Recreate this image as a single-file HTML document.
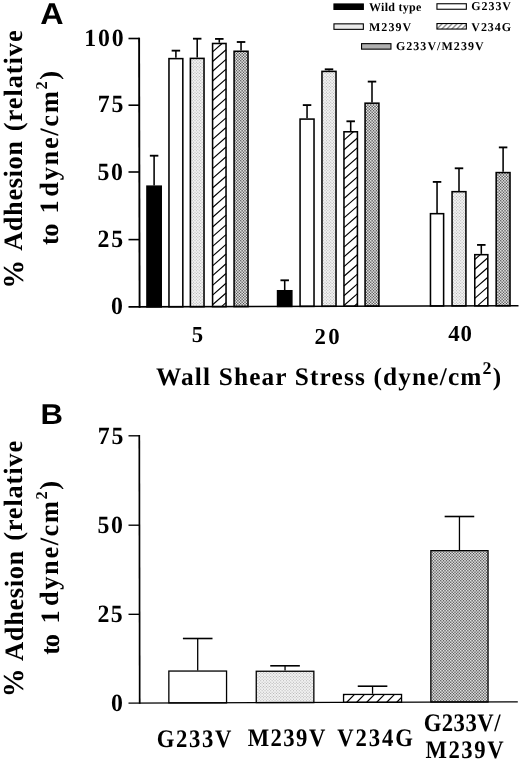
<!DOCTYPE html>
<html lang="en"><head><meta charset="utf-8"><title>Figure: % Adhesion vs Wall Shear Stress</title>
<style>html,body{margin:0;padding:0;background:#fff}svg{display:block;will-change:transform;filter:grayscale(1)}</style></head><body>
<svg width="520" height="761" viewBox="0 0 520 761" font-family="'Liberation Serif', serif" font-weight="bold" fill="#000" text-rendering="geometricPrecision">
<defs>
<pattern id="lt" width="20" height="20" patternUnits="userSpaceOnUse"><rect width="20" height="20" fill="#f2f2f2"/><path d="M0.21 0.21h1.00v1.00h-1.00zM3.07 0.21h1.00v1.00h-1.00zM5.93 0.21h1.00v1.00h-1.00zM8.79 0.21h1.00v1.00h-1.00zM11.64 0.21h1.00v1.00h-1.00zM14.50 0.21h1.00v1.00h-1.00zM17.36 0.21h1.00v1.00h-1.00zM1.64 1.64h1.00v1.00h-1.00zM4.50 1.64h1.00v1.00h-1.00zM7.36 1.64h1.00v1.00h-1.00zM10.21 1.64h1.00v1.00h-1.00zM13.07 1.64h1.00v1.00h-1.00zM15.93 1.64h1.00v1.00h-1.00zM18.79 1.64h1.00v1.00h-1.00zM0.21 3.07h1.00v1.00h-1.00zM3.07 3.07h1.00v1.00h-1.00zM5.93 3.07h1.00v1.00h-1.00zM8.79 3.07h1.00v1.00h-1.00zM11.64 3.07h1.00v1.00h-1.00zM14.50 3.07h1.00v1.00h-1.00zM17.36 3.07h1.00v1.00h-1.00zM1.64 4.50h1.00v1.00h-1.00zM4.50 4.50h1.00v1.00h-1.00zM7.36 4.50h1.00v1.00h-1.00zM10.21 4.50h1.00v1.00h-1.00zM13.07 4.50h1.00v1.00h-1.00zM15.93 4.50h1.00v1.00h-1.00zM18.79 4.50h1.00v1.00h-1.00zM0.21 5.93h1.00v1.00h-1.00zM3.07 5.93h1.00v1.00h-1.00zM5.93 5.93h1.00v1.00h-1.00zM8.79 5.93h1.00v1.00h-1.00zM11.64 5.93h1.00v1.00h-1.00zM14.50 5.93h1.00v1.00h-1.00zM17.36 5.93h1.00v1.00h-1.00zM1.64 7.36h1.00v1.00h-1.00zM4.50 7.36h1.00v1.00h-1.00zM7.36 7.36h1.00v1.00h-1.00zM10.21 7.36h1.00v1.00h-1.00zM13.07 7.36h1.00v1.00h-1.00zM15.93 7.36h1.00v1.00h-1.00zM18.79 7.36h1.00v1.00h-1.00zM0.21 8.79h1.00v1.00h-1.00zM3.07 8.79h1.00v1.00h-1.00zM5.93 8.79h1.00v1.00h-1.00zM8.79 8.79h1.00v1.00h-1.00zM11.64 8.79h1.00v1.00h-1.00zM14.50 8.79h1.00v1.00h-1.00zM17.36 8.79h1.00v1.00h-1.00zM1.64 10.21h1.00v1.00h-1.00zM4.50 10.21h1.00v1.00h-1.00zM7.36 10.21h1.00v1.00h-1.00zM10.21 10.21h1.00v1.00h-1.00zM13.07 10.21h1.00v1.00h-1.00zM15.93 10.21h1.00v1.00h-1.00zM18.79 10.21h1.00v1.00h-1.00zM0.21 11.64h1.00v1.00h-1.00zM3.07 11.64h1.00v1.00h-1.00zM5.93 11.64h1.00v1.00h-1.00zM8.79 11.64h1.00v1.00h-1.00zM11.64 11.64h1.00v1.00h-1.00zM14.50 11.64h1.00v1.00h-1.00zM17.36 11.64h1.00v1.00h-1.00zM1.64 13.07h1.00v1.00h-1.00zM4.50 13.07h1.00v1.00h-1.00zM7.36 13.07h1.00v1.00h-1.00zM10.21 13.07h1.00v1.00h-1.00zM13.07 13.07h1.00v1.00h-1.00zM15.93 13.07h1.00v1.00h-1.00zM18.79 13.07h1.00v1.00h-1.00zM0.21 14.50h1.00v1.00h-1.00zM3.07 14.50h1.00v1.00h-1.00zM5.93 14.50h1.00v1.00h-1.00zM8.79 14.50h1.00v1.00h-1.00zM11.64 14.50h1.00v1.00h-1.00zM14.50 14.50h1.00v1.00h-1.00zM17.36 14.50h1.00v1.00h-1.00zM1.64 15.93h1.00v1.00h-1.00zM4.50 15.93h1.00v1.00h-1.00zM7.36 15.93h1.00v1.00h-1.00zM10.21 15.93h1.00v1.00h-1.00zM13.07 15.93h1.00v1.00h-1.00zM15.93 15.93h1.00v1.00h-1.00zM18.79 15.93h1.00v1.00h-1.00zM0.21 17.36h1.00v1.00h-1.00zM3.07 17.36h1.00v1.00h-1.00zM5.93 17.36h1.00v1.00h-1.00zM8.79 17.36h1.00v1.00h-1.00zM11.64 17.36h1.00v1.00h-1.00zM14.50 17.36h1.00v1.00h-1.00zM17.36 17.36h1.00v1.00h-1.00zM1.64 18.79h1.00v1.00h-1.00zM4.50 18.79h1.00v1.00h-1.00zM7.36 18.79h1.00v1.00h-1.00zM10.21 18.79h1.00v1.00h-1.00zM13.07 18.79h1.00v1.00h-1.00zM15.93 18.79h1.00v1.00h-1.00zM18.79 18.79h1.00v1.00h-1.00z" fill="#b4b4b4"/></pattern>
<pattern id="dk" width="20" height="20" patternUnits="userSpaceOnUse"><rect width="20" height="20" fill="#acacac"/><path d="M0.21 0.21h1.00v1.00h-1.00zM3.07 0.21h1.00v1.00h-1.00zM5.93 0.21h1.00v1.00h-1.00zM8.79 0.21h1.00v1.00h-1.00zM11.64 0.21h1.00v1.00h-1.00zM14.50 0.21h1.00v1.00h-1.00zM17.36 0.21h1.00v1.00h-1.00zM1.64 1.64h1.00v1.00h-1.00zM4.50 1.64h1.00v1.00h-1.00zM7.36 1.64h1.00v1.00h-1.00zM10.21 1.64h1.00v1.00h-1.00zM13.07 1.64h1.00v1.00h-1.00zM15.93 1.64h1.00v1.00h-1.00zM18.79 1.64h1.00v1.00h-1.00zM0.21 3.07h1.00v1.00h-1.00zM3.07 3.07h1.00v1.00h-1.00zM5.93 3.07h1.00v1.00h-1.00zM8.79 3.07h1.00v1.00h-1.00zM11.64 3.07h1.00v1.00h-1.00zM14.50 3.07h1.00v1.00h-1.00zM17.36 3.07h1.00v1.00h-1.00zM1.64 4.50h1.00v1.00h-1.00zM4.50 4.50h1.00v1.00h-1.00zM7.36 4.50h1.00v1.00h-1.00zM10.21 4.50h1.00v1.00h-1.00zM13.07 4.50h1.00v1.00h-1.00zM15.93 4.50h1.00v1.00h-1.00zM18.79 4.50h1.00v1.00h-1.00zM0.21 5.93h1.00v1.00h-1.00zM3.07 5.93h1.00v1.00h-1.00zM5.93 5.93h1.00v1.00h-1.00zM8.79 5.93h1.00v1.00h-1.00zM11.64 5.93h1.00v1.00h-1.00zM14.50 5.93h1.00v1.00h-1.00zM17.36 5.93h1.00v1.00h-1.00zM1.64 7.36h1.00v1.00h-1.00zM4.50 7.36h1.00v1.00h-1.00zM7.36 7.36h1.00v1.00h-1.00zM10.21 7.36h1.00v1.00h-1.00zM13.07 7.36h1.00v1.00h-1.00zM15.93 7.36h1.00v1.00h-1.00zM18.79 7.36h1.00v1.00h-1.00zM0.21 8.79h1.00v1.00h-1.00zM3.07 8.79h1.00v1.00h-1.00zM5.93 8.79h1.00v1.00h-1.00zM8.79 8.79h1.00v1.00h-1.00zM11.64 8.79h1.00v1.00h-1.00zM14.50 8.79h1.00v1.00h-1.00zM17.36 8.79h1.00v1.00h-1.00zM1.64 10.21h1.00v1.00h-1.00zM4.50 10.21h1.00v1.00h-1.00zM7.36 10.21h1.00v1.00h-1.00zM10.21 10.21h1.00v1.00h-1.00zM13.07 10.21h1.00v1.00h-1.00zM15.93 10.21h1.00v1.00h-1.00zM18.79 10.21h1.00v1.00h-1.00zM0.21 11.64h1.00v1.00h-1.00zM3.07 11.64h1.00v1.00h-1.00zM5.93 11.64h1.00v1.00h-1.00zM8.79 11.64h1.00v1.00h-1.00zM11.64 11.64h1.00v1.00h-1.00zM14.50 11.64h1.00v1.00h-1.00zM17.36 11.64h1.00v1.00h-1.00zM1.64 13.07h1.00v1.00h-1.00zM4.50 13.07h1.00v1.00h-1.00zM7.36 13.07h1.00v1.00h-1.00zM10.21 13.07h1.00v1.00h-1.00zM13.07 13.07h1.00v1.00h-1.00zM15.93 13.07h1.00v1.00h-1.00zM18.79 13.07h1.00v1.00h-1.00zM0.21 14.50h1.00v1.00h-1.00zM3.07 14.50h1.00v1.00h-1.00zM5.93 14.50h1.00v1.00h-1.00zM8.79 14.50h1.00v1.00h-1.00zM11.64 14.50h1.00v1.00h-1.00zM14.50 14.50h1.00v1.00h-1.00zM17.36 14.50h1.00v1.00h-1.00zM1.64 15.93h1.00v1.00h-1.00zM4.50 15.93h1.00v1.00h-1.00zM7.36 15.93h1.00v1.00h-1.00zM10.21 15.93h1.00v1.00h-1.00zM13.07 15.93h1.00v1.00h-1.00zM15.93 15.93h1.00v1.00h-1.00zM18.79 15.93h1.00v1.00h-1.00zM0.21 17.36h1.00v1.00h-1.00zM3.07 17.36h1.00v1.00h-1.00zM5.93 17.36h1.00v1.00h-1.00zM8.79 17.36h1.00v1.00h-1.00zM11.64 17.36h1.00v1.00h-1.00zM14.50 17.36h1.00v1.00h-1.00zM17.36 17.36h1.00v1.00h-1.00zM1.64 18.79h1.00v1.00h-1.00zM4.50 18.79h1.00v1.00h-1.00zM7.36 18.79h1.00v1.00h-1.00zM10.21 18.79h1.00v1.00h-1.00zM13.07 18.79h1.00v1.00h-1.00zM15.93 18.79h1.00v1.00h-1.00zM18.79 18.79h1.00v1.00h-1.00z" fill="#404040"/><path d="M1.64 0.21h1.00v1.00h-1.00zM4.50 0.21h1.00v1.00h-1.00zM7.36 0.21h1.00v1.00h-1.00zM10.21 0.21h1.00v1.00h-1.00zM13.07 0.21h1.00v1.00h-1.00zM15.93 0.21h1.00v1.00h-1.00zM18.79 0.21h1.00v1.00h-1.00zM0.21 1.64h1.00v1.00h-1.00zM3.07 1.64h1.00v1.00h-1.00zM5.93 1.64h1.00v1.00h-1.00zM8.79 1.64h1.00v1.00h-1.00zM11.64 1.64h1.00v1.00h-1.00zM14.50 1.64h1.00v1.00h-1.00zM17.36 1.64h1.00v1.00h-1.00zM1.64 3.07h1.00v1.00h-1.00zM4.50 3.07h1.00v1.00h-1.00zM7.36 3.07h1.00v1.00h-1.00zM10.21 3.07h1.00v1.00h-1.00zM13.07 3.07h1.00v1.00h-1.00zM15.93 3.07h1.00v1.00h-1.00zM18.79 3.07h1.00v1.00h-1.00zM0.21 4.50h1.00v1.00h-1.00zM3.07 4.50h1.00v1.00h-1.00zM5.93 4.50h1.00v1.00h-1.00zM8.79 4.50h1.00v1.00h-1.00zM11.64 4.50h1.00v1.00h-1.00zM14.50 4.50h1.00v1.00h-1.00zM17.36 4.50h1.00v1.00h-1.00zM1.64 5.93h1.00v1.00h-1.00zM4.50 5.93h1.00v1.00h-1.00zM7.36 5.93h1.00v1.00h-1.00zM10.21 5.93h1.00v1.00h-1.00zM13.07 5.93h1.00v1.00h-1.00zM15.93 5.93h1.00v1.00h-1.00zM18.79 5.93h1.00v1.00h-1.00zM0.21 7.36h1.00v1.00h-1.00zM3.07 7.36h1.00v1.00h-1.00zM5.93 7.36h1.00v1.00h-1.00zM8.79 7.36h1.00v1.00h-1.00zM11.64 7.36h1.00v1.00h-1.00zM14.50 7.36h1.00v1.00h-1.00zM17.36 7.36h1.00v1.00h-1.00zM1.64 8.79h1.00v1.00h-1.00zM4.50 8.79h1.00v1.00h-1.00zM7.36 8.79h1.00v1.00h-1.00zM10.21 8.79h1.00v1.00h-1.00zM13.07 8.79h1.00v1.00h-1.00zM15.93 8.79h1.00v1.00h-1.00zM18.79 8.79h1.00v1.00h-1.00zM0.21 10.21h1.00v1.00h-1.00zM3.07 10.21h1.00v1.00h-1.00zM5.93 10.21h1.00v1.00h-1.00zM8.79 10.21h1.00v1.00h-1.00zM11.64 10.21h1.00v1.00h-1.00zM14.50 10.21h1.00v1.00h-1.00zM17.36 10.21h1.00v1.00h-1.00zM1.64 11.64h1.00v1.00h-1.00zM4.50 11.64h1.00v1.00h-1.00zM7.36 11.64h1.00v1.00h-1.00zM10.21 11.64h1.00v1.00h-1.00zM13.07 11.64h1.00v1.00h-1.00zM15.93 11.64h1.00v1.00h-1.00zM18.79 11.64h1.00v1.00h-1.00zM0.21 13.07h1.00v1.00h-1.00zM3.07 13.07h1.00v1.00h-1.00zM5.93 13.07h1.00v1.00h-1.00zM8.79 13.07h1.00v1.00h-1.00zM11.64 13.07h1.00v1.00h-1.00zM14.50 13.07h1.00v1.00h-1.00zM17.36 13.07h1.00v1.00h-1.00zM1.64 14.50h1.00v1.00h-1.00zM4.50 14.50h1.00v1.00h-1.00zM7.36 14.50h1.00v1.00h-1.00zM10.21 14.50h1.00v1.00h-1.00zM13.07 14.50h1.00v1.00h-1.00zM15.93 14.50h1.00v1.00h-1.00zM18.79 14.50h1.00v1.00h-1.00zM0.21 15.93h1.00v1.00h-1.00zM3.07 15.93h1.00v1.00h-1.00zM5.93 15.93h1.00v1.00h-1.00zM8.79 15.93h1.00v1.00h-1.00zM11.64 15.93h1.00v1.00h-1.00zM14.50 15.93h1.00v1.00h-1.00zM17.36 15.93h1.00v1.00h-1.00zM1.64 17.36h1.00v1.00h-1.00zM4.50 17.36h1.00v1.00h-1.00zM7.36 17.36h1.00v1.00h-1.00zM10.21 17.36h1.00v1.00h-1.00zM13.07 17.36h1.00v1.00h-1.00zM15.93 17.36h1.00v1.00h-1.00zM18.79 17.36h1.00v1.00h-1.00zM0.21 18.79h1.00v1.00h-1.00zM3.07 18.79h1.00v1.00h-1.00zM5.93 18.79h1.00v1.00h-1.00zM8.79 18.79h1.00v1.00h-1.00zM11.64 18.79h1.00v1.00h-1.00zM14.50 18.79h1.00v1.00h-1.00zM17.36 18.79h1.00v1.00h-1.00z" fill="#fcfcfc"/></pattern>
<pattern id="hs" width="5" height="5" patternUnits="userSpaceOnUse" x="437.4" y="23.5"><rect width="5" height="5" fill="#fff"/><path d="M-1 6L6 -1M-6 6L1 -1M4 6L11 -1" stroke="#222" stroke-width="1"/></pattern>
</defs>
<rect width="520" height="761" fill="#fff"/>
<path d="M154.10 185.40V155.70" stroke="#000" stroke-width="1.55" fill="none"/><path d="M149.85 155.70H158.35" stroke="#000" stroke-width="1.85" fill="none"/>
<rect x="146.97" y="186.18" width="14.25" height="120.65" fill="#000" stroke="#000" stroke-width="1.55"/>
<path d="M175.90 57.85V50.65" stroke="#000" stroke-width="1.55" fill="none"/><path d="M171.65 50.65H180.15" stroke="#000" stroke-width="1.85" fill="none"/>
<rect x="168.97" y="58.62" width="13.85" height="248.13" fill="#fff" stroke="#000" stroke-width="1.55"/>
<path d="M197.20 57.60V38.70" stroke="#000" stroke-width="1.55" fill="none"/><path d="M192.95 38.70H201.45" stroke="#000" stroke-width="1.85" fill="none"/>
<rect x="190.38" y="58.38" width="13.65" height="248.31" fill="url(#lt)" stroke="#000" stroke-width="1.55"/>
<path d="M219.30 42.70V38.90" stroke="#000" stroke-width="1.55" fill="none"/><path d="M215.05 38.90H223.55" stroke="#000" stroke-width="1.85" fill="none"/>
<rect x="212.58" y="43.48" width="13.45" height="263.15" fill="#fff"/>
<path d="M212.58 51.82L222.06 43.48M212.58 61.55L226.03 49.71M212.58 71.28L226.03 59.44M212.58 81.01L226.03 69.17M212.58 90.74L226.03 78.90M212.58 100.47L226.03 88.63M212.58 110.20L226.03 98.36M212.58 119.93L226.03 108.09M212.58 129.66L226.03 117.82M212.58 139.39L226.03 127.55M212.58 149.12L226.03 137.28M212.58 158.85L226.03 147.01M212.58 168.58L226.03 156.74M212.58 178.31L226.03 166.47M212.58 188.04L226.03 176.20M212.58 197.77L226.03 185.93M212.58 207.50L226.03 195.66M212.58 217.23L226.03 205.39M212.58 226.96L226.03 215.12M212.58 236.69L226.03 224.85M212.58 246.42L226.03 234.58M212.58 256.15L226.03 244.31M212.58 265.88L226.03 254.04M212.58 275.61L226.03 263.77M212.58 285.34L226.03 273.50M212.58 295.07L226.03 283.23M212.58 304.80L226.03 292.96M221.56 306.62L226.03 302.69" stroke="#000" stroke-width="1.15" fill="none"/>
<rect x="212.58" y="43.48" width="13.45" height="263.15" fill="none" stroke="#000" stroke-width="1.55"/>
<path d="M241.05 50.50V42.00" stroke="#000" stroke-width="1.55" fill="none"/><path d="M236.80 42.00H245.30" stroke="#000" stroke-width="1.85" fill="none"/>
<rect x="234.08" y="51.27" width="13.95" height="255.28" fill="url(#dk)" stroke="#000" stroke-width="1.55"/>
<path d="M284.70 290.00V280.30" stroke="#000" stroke-width="1.55" fill="none"/><path d="M280.45 280.30H288.95" stroke="#000" stroke-width="1.85" fill="none"/>
<rect x="277.57" y="290.77" width="14.25" height="15.64" fill="#000" stroke="#000" stroke-width="1.55"/>
<path d="M307.05 118.30V105.10" stroke="#000" stroke-width="1.55" fill="none"/><path d="M302.80 105.10H311.30" stroke="#000" stroke-width="1.85" fill="none"/>
<rect x="300.07" y="119.08" width="13.95" height="187.28" fill="#fff" stroke="#000" stroke-width="1.55"/>
<path d="M329.00 70.60V69.30" stroke="#000" stroke-width="1.55" fill="none"/><path d="M324.75 69.30H333.25" stroke="#000" stroke-width="1.85" fill="none"/>
<rect x="321.97" y="71.38" width="14.05" height="234.91" fill="url(#lt)" stroke="#000" stroke-width="1.55"/>
<path d="M350.70 131.00V121.30" stroke="#000" stroke-width="1.55" fill="none"/><path d="M346.45 121.30H354.95" stroke="#000" stroke-width="1.85" fill="none"/>
<rect x="343.97" y="131.78" width="13.45" height="174.44" fill="#fff"/>
<path d="M343.97 140.07L353.40 131.78M343.97 149.80L357.43 137.96M343.97 159.53L357.43 147.69M343.97 169.26L357.43 157.42M343.97 178.99L357.43 167.15M343.97 188.72L357.43 176.88M343.97 198.45L357.43 186.61M343.97 208.18L357.43 196.34M343.97 217.91L357.43 206.07M343.97 227.64L357.43 215.80M343.97 237.37L357.43 225.53M343.97 247.10L357.43 235.26M343.97 256.83L357.43 244.99M343.97 266.56L357.43 254.72M343.97 276.29L357.43 264.45M343.97 286.02L357.43 274.18M343.97 295.75L357.43 283.91M343.97 305.48L357.43 293.64M354.20 306.22L357.43 303.37" stroke="#000" stroke-width="1.15" fill="none"/>
<rect x="343.97" y="131.78" width="13.45" height="174.44" fill="none" stroke="#000" stroke-width="1.55"/>
<path d="M372.00 102.40V81.60" stroke="#000" stroke-width="1.55" fill="none"/><path d="M367.75 81.60H376.25" stroke="#000" stroke-width="1.85" fill="none"/>
<rect x="365.07" y="103.18" width="13.85" height="202.98" fill="url(#dk)" stroke="#000" stroke-width="1.55"/>
<path d="M437.05 212.90V181.90" stroke="#000" stroke-width="1.55" fill="none"/><path d="M432.80 181.90H441.30" stroke="#000" stroke-width="1.85" fill="none"/>
<rect x="430.47" y="213.68" width="13.15" height="92.28" fill="#fff" stroke="#000" stroke-width="1.55"/>
<path d="M459.00 190.90V168.30" stroke="#000" stroke-width="1.55" fill="none"/><path d="M454.75 168.30H463.25" stroke="#000" stroke-width="1.85" fill="none"/>
<rect x="452.07" y="191.68" width="13.85" height="114.21" fill="url(#lt)" stroke="#000" stroke-width="1.55"/>
<path d="M481.30 253.90V244.90" stroke="#000" stroke-width="1.55" fill="none"/><path d="M477.05 244.90H485.55" stroke="#000" stroke-width="1.85" fill="none"/>
<rect x="474.77" y="254.68" width="13.05" height="51.14" fill="#fff"/>
<path d="M474.77 259.50L480.26 254.68M474.77 269.23L487.83 257.75M474.77 278.96L487.83 267.48M474.77 288.69L487.83 277.21M474.77 298.42L487.83 286.94M477.43 305.81L487.83 296.67" stroke="#000" stroke-width="1.15" fill="none"/>
<rect x="474.77" y="254.68" width="13.05" height="51.14" fill="none" stroke="#000" stroke-width="1.55"/>
<path d="M503.10 171.80V147.40" stroke="#000" stroke-width="1.55" fill="none"/><path d="M498.85 147.40H507.35" stroke="#000" stroke-width="1.85" fill="none"/>
<rect x="496.17" y="172.58" width="13.85" height="133.17" fill="url(#dk)" stroke="#000" stroke-width="1.55"/>
<path d="M139.10 37.70L139.60 307.67" stroke="#000" stroke-width="1.9"/>
<path d="M128.5 38.50H139.60" stroke="#000" stroke-width="1.60"/>
<path d="M128.5 105.20H139.60" stroke="#000" stroke-width="1.60"/>
<path d="M128.5 172.00H139.60" stroke="#000" stroke-width="1.60"/>
<path d="M128.5 239.60H139.60" stroke="#000" stroke-width="1.60"/>
<path d="M128.50 306.90L518.50 305.70" stroke="#000" stroke-width="1.60"/>
<rect x="333.95" y="3.95" width="29.4" height="5.50" fill="#000" stroke="#000" stroke-width="1.1"/>
<rect x="436.95" y="3.75" width="29.4" height="5.50" fill="#fff" stroke="#000" stroke-width="1.1"/>
<rect x="333.95" y="23.85" width="29.4" height="5.50" fill="#ebebeb" stroke="#000" stroke-width="1.1"/>
<rect x="436.95" y="23.55" width="29.4" height="5.50" fill="url(#hs)" stroke="#000" stroke-width="1.1"/>
<rect x="361.55" y="43.65" width="29.4" height="5.50" fill="#b0b0b0" stroke="#000" stroke-width="1.1"/>
<path d="M197.70 670.40V638.50" stroke="#000" stroke-width="1.30" fill="none"/><path d="M182.90 638.50H212.50" stroke="#000" stroke-width="1.60" fill="none"/>
<rect x="168.85" y="671.05" width="57.70" height="31.82" fill="#fff" stroke="#000" stroke-width="1.30"/>
<path d="M285.05 670.60V665.80" stroke="#000" stroke-width="1.30" fill="none"/><path d="M270.25 665.80H299.85" stroke="#000" stroke-width="1.60" fill="none"/>
<rect x="256.25" y="671.25" width="57.60" height="31.33" fill="url(#lt)" stroke="#000" stroke-width="1.30"/>
<path d="M372.55 693.80V686.20" stroke="#000" stroke-width="1.30" fill="none"/><path d="M357.75 686.20H387.35" stroke="#000" stroke-width="1.60" fill="none"/>
<rect x="343.55" y="694.45" width="58.00" height="7.84" fill="#fff"/>
<path d="M343.55 695.45L344.55 694.45M346.71 702.29L354.55 694.45M356.71 702.29L364.55 694.45M366.71 702.29L374.55 694.45M376.71 702.29L384.55 694.45M386.71 702.29L394.55 694.45M396.71 702.29L401.55 697.45" stroke="#000" stroke-width="1.20" fill="none"/>
<rect x="343.55" y="694.45" width="58.00" height="7.84" fill="none" stroke="#000" stroke-width="1.30"/>
<path d="M459.45 550.00V516.50" stroke="#000" stroke-width="1.30" fill="none"/><path d="M444.65 516.50H474.25" stroke="#000" stroke-width="1.60" fill="none"/>
<rect x="430.85" y="550.65" width="57.20" height="151.34" fill="url(#dk)" stroke="#000" stroke-width="1.30"/>
<path d="M139.30 435.12L139.70 703.74" stroke="#000" stroke-width="1.7"/>
<path d="M128.5 435.80H139.60" stroke="#000" stroke-width="1.35"/>
<path d="M128.5 525.20H139.60" stroke="#000" stroke-width="1.35"/>
<path d="M128.5 614.30H139.60" stroke="#000" stroke-width="1.35"/>
<path d="M128.50 703.10L517.80 701.80" stroke="#000" stroke-width="1.35"/>
<text font-size="24.80" textLength="40.84" lengthAdjust="spacing" transform="translate(84.37 45.51) scale(0.960 1)">100</text>
<text font-size="24.80" textLength="26.52" lengthAdjust="spacing" transform="translate(97.85 112.46) scale(0.960 1)">75</text>
<text font-size="24.80" textLength="26.23" lengthAdjust="spacing" transform="translate(97.62 179.50) scale(0.960 1)">50</text>
<text font-size="24.80" textLength="26.83" lengthAdjust="spacing" transform="translate(97.49 247.45) scale(0.960 1)">25</text>
<text font-size="24.80" transform="translate(111.00 313.69) scale(0.960 1)">0</text>
<text font-size="24.80" textLength="26.52" lengthAdjust="spacing" transform="translate(97.85 444.20) scale(0.960 1)">75</text>
<text font-size="24.80" textLength="26.23" lengthAdjust="spacing" transform="translate(97.62 533.22) scale(0.960 1)">50</text>
<text font-size="24.80" textLength="26.33" lengthAdjust="spacing" transform="translate(97.49 621.71) scale(0.960 1)">25</text>
<text font-size="24.80" transform="translate(111.00 710.69) scale(0.960 1)">0</text>
<text font-size="22.80" x="191.71" y="341.50">5</text>
<text font-size="22.80" textLength="24.98" lengthAdjust="spacing" x="314.59" y="343.79">20</text>
<text font-size="22.80" textLength="23.85" lengthAdjust="spacing" x="448.15" y="341.32">40</text>
<text font-size="25.30" textLength="345.17" lengthAdjust="spacing" x="155.95" y="385.29">Wall Shear Stress (dyne/cm<tspan font-size="17.96" dy="-10.88">2</tspan><tspan dy="10.88">)</tspan></text>
<text font-size="30.20" font-family="'Liberation Sans', sans-serif" transform="translate(40.30 23.76) scale(1.070 1)">A</text>
<text font-size="28.60" font-family="'Liberation Sans', sans-serif" transform="translate(40.47 424.24) scale(1.090 1)">B</text>
<text font-size="25.20" textLength="82.84" lengthAdjust="spacing" transform="translate(156.85 746.69) scale(0.900 1)">G233V</text>
<text font-size="25.20" textLength="86.23" lengthAdjust="spacing" transform="translate(247.69 746.06) scale(0.900 1)">M239V</text>
<text font-size="25.20" textLength="83.96" lengthAdjust="spacing" transform="translate(337.22 745.92) scale(0.900 1)">V234G</text>
<text font-size="25.20" textLength="85.33" lengthAdjust="spacing" transform="translate(423.66 731.42) scale(0.900 1)">G233V/</text>
<text font-size="25.20" textLength="86.83" lengthAdjust="spacing" transform="translate(425.39 758.48) scale(0.900 1)">M239V</text>
<text font-size="12.00" textLength="52.49" lengthAdjust="spacing" x="368.93" y="10.91">Wild type</text>
<text font-size="12.00" textLength="39.83" lengthAdjust="spacing" x="471.18" y="10.36">G233V</text>
<text font-size="12.00" textLength="42.37" lengthAdjust="spacing" x="368.90" y="30.60">M239V</text>
<text font-size="12.00" textLength="39.82" lengthAdjust="spacing" x="471.30" y="30.63">V234G</text>
<text font-size="12.00" textLength="87.75" lengthAdjust="spacing" x="395.89" y="50.12">G233V/M239V</text>
<text transform="translate(22.53 288.65) rotate(-90)" font-size="26.50"><tspan x="0.00" y="0.00" font-size="28.89">%</tspan> <tspan x="37.79" y="-0.35" textLength="109.96" lengthAdjust="spacing">Adhesion</tspan> <tspan x="157.52" y="-0.74" textLength="100.80" lengthAdjust="spacing">(relative</tspan></text>
<text transform="translate(58.29 245.09) rotate(-90)" font-size="26.50"><tspan x="0.00" y="0.00" textLength="21.51" lengthAdjust="spacing">to</tspan> <tspan x="31.68" y="0.03">1</tspan> <tspan x="48.43" y="0.04" textLength="125.71" lengthAdjust="spacing">dyne/cm<tspan font-size="16.43" dy="-11.39">2</tspan><tspan dy="11.39">)</tspan></tspan></text>
<text transform="translate(22.53 697.22) rotate(-90)" font-size="26.50"><tspan x="0.00" y="0.00" font-size="28.89">%</tspan> <tspan x="36.32" y="0.21" textLength="110.26" lengthAdjust="spacing">Adhesion</tspan> <tspan x="156.41" y="-0.53" textLength="99.97" lengthAdjust="spacing">(relative</tspan></text>
<text transform="translate(58.77 654.68) rotate(-90)" font-size="26.50"><tspan x="0.00" y="0.00" textLength="20.74" lengthAdjust="spacing">to</tspan> <tspan x="31.08" y="0.01">1</tspan> <tspan x="48.77" y="-0.31" textLength="124.95" lengthAdjust="spacing">dyne/cm<tspan font-size="16.43" dy="-11.39">2</tspan><tspan dy="11.39">)</tspan></tspan></text>
</svg></body></html>
